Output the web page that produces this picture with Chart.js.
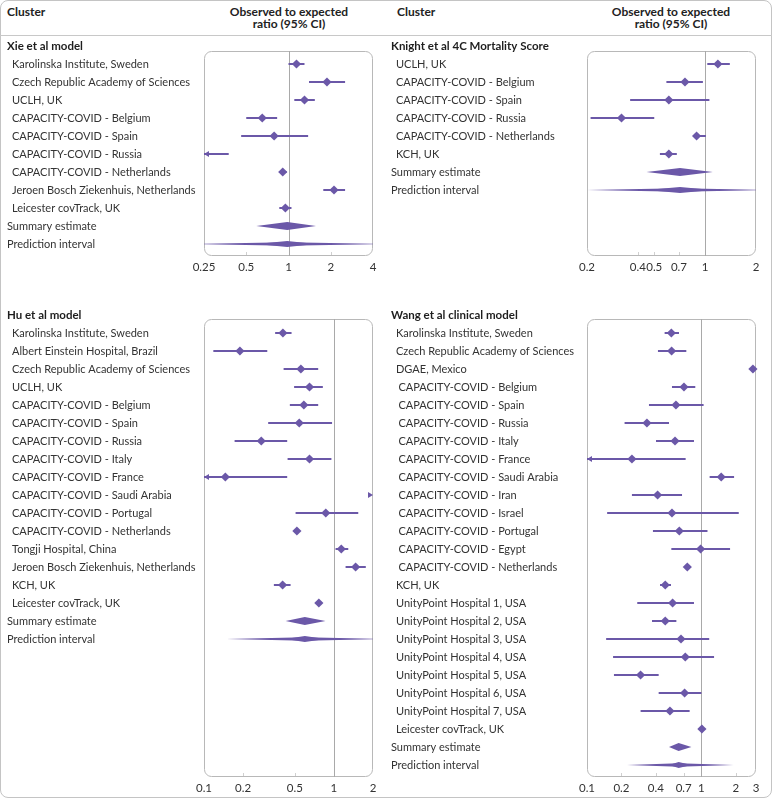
<!DOCTYPE html>
<html>
<head>
<meta charset="utf-8">
<title>Observed to expected ratio by cluster</title>
<script src="https://cdn.jsdelivr.net/npm/chart.js@4.4.1/dist/chart.umd.min.js"></script>
<style>
  body { margin: 0; background: #fff; font-family: Lato, "Open Sans", sans-serif; color: #333; }
  #frame { position: relative; width: 773px; height: 800px; }
  .border { position: absolute; left: 0; top: 0; width: 770px; height: 796px; border: 1px solid #c4c4c4; border-radius: 8px; }
  .sep { position: absolute; left: 0; top: 35px; width: 772px; border-top: 1px solid #c8c8c8; }
  .hd { position: absolute; top: 6px; font-weight: bold; font-size: 12px; line-height: 12px; color: #222; }
  canvas { position: absolute; }
</style>
</head>
<body>
<div id="frame">
  <div class="border"></div>
  <div class="sep"></div>
  <div class="hd" style="left:7px">Cluster</div>
  <div class="hd" style="left:219px;width:140px;text-align:center">Observed to expected<br>ratio (95% CI)</div>
  <div class="hd" style="left:397px">Cluster</div>
  <div class="hd" style="left:601px;width:140px;text-align:center">Observed to expected<br>ratio (95% CI)</div>
  <canvas id="xie" width="386" height="243" style="left:0;top:37px"></canvas>
  <canvas id="knight" width="389" height="243" style="left:384px;top:37px"></canvas>
  <canvas id="hu" width="386" height="494" style="left:0;top:306px"></canvas>
  <canvas id="wang" width="389" height="494" style="left:384px;top:306px"></canvas>
</div>
<script>
// ---- Xie et al model
const xieTitle = 'Xie et al model';
const xieSites = ['Karolinska Institute, Sweden', 'Czech Republic Academy of Sciences', 'UCLH, UK',
  'CAPACITY-COVID - Belgium', 'CAPACITY-COVID - Spain', 'CAPACITY-COVID - Russia',
  'CAPACITY-COVID - Netherlands', 'Jeroen Bosch Ziekenhuis, Netherlands', 'Leicester covTrack, UK'];
const xieEst = [1.14, 1.88, 1.30, 0.65, 0.79, 0.20, 0.91, 2.11, 0.95];
const xieLo = [1.00, 1.40, 1.10, 0.50, 0.46, 0.12, 0.86, 1.77, 0.86];
const xieHi = [1.30, 2.53, 1.54, 0.83, 1.38, 0.375, 0.97, 2.53, 1.05];
const xieSummary = [0.59, 0.98, 1.57];   // lo, estimate, hi
const xiePredict = [0.2, 0.98, 4.8];
const xieTicks = [0.25, 0.5, 1, 2, 4];

// ---- Knight et al 4C Mortality Score
const knightTitle = 'Knight et al 4C Mortality Score';
const knightSites = ['UCLH, UK', 'CAPACITY-COVID - Belgium', 'CAPACITY-COVID - Spain',
  'CAPACITY-COVID - Russia', 'CAPACITY-COVID - Netherlands', 'KCH, UK'];
const knightEst = [1.19, 0.76, 0.61, 0.32, 0.89, 0.61];
const knightLo = [1.03, 0.59, 0.36, 0.21, 0.86, 0.54];
const knightHi = [1.40, 0.97, 1.06, 0.50, 1.01, 0.68];
const knightSummary = [0.45, 0.71, 1.11];
const knightPredict = [0.19, 0.71, 2.3];
const knightTicks = [0.2, 0.4, 0.5, 0.7, 1, 2];

// ---- Hu et al model
const huTitle = 'Hu et al model';
const huSites = ['Karolinska Institute, Sweden', 'Albert Einstein Hospital, Brazil', 'Czech Republic Academy of Sciences',
  'UCLH, UK', 'CAPACITY-COVID - Belgium', 'CAPACITY-COVID - Spain', 'CAPACITY-COVID - Russia',
  'CAPACITY-COVID - Italy', 'CAPACITY-COVID - France', 'CAPACITY-COVID - Saudi Arabia',
  'CAPACITY-COVID - Portugal', 'CAPACITY-COVID - Netherlands', 'Tongji Hospital, China',
  'Jeroen Bosch Ziekenhuis, Netherlands', 'KCH, UK', 'Leicester covTrack, UK'];
const huEst = [0.405, 0.189, 0.557, 0.649, 0.587, 0.541, 0.276, 0.649, 0.146, 3.0, 0.866, 0.519, 1.14, 1.47, 0.403, 0.766];
const huLo = [0.353, 0.118, 0.41, 0.494, 0.458, 0.312, 0.172, 0.44, 0.08, 2.1, 0.507, 0.50, 1.03, 1.23, 0.345, 0.74];
const huHi = [0.472, 0.307, 0.757, 0.822, 0.757, 0.968, 0.437, 0.957, 0.437, 4.2, 1.54, 0.54, 1.29, 1.76, 0.464, 0.79];
const huSummary = [0.425, 0.597, 0.861];
const huPredict = [0.149, 0.6, 2.4];
const huTicks = [0.1, 0.2, 0.5, 1, 2];

// ---- Wang et al clinical model
const wangTitle = 'Wang et al clinical model';
const wangSites = ['Karolinska Institute, Sweden', 'Czech Republic Academy of Sciences', 'DGAE, Mexico',
  'CAPACITY-COVID - Belgium', 'CAPACITY-COVID - Spain', 'CAPACITY-COVID - Russia', 'CAPACITY-COVID - Italy',
  'CAPACITY-COVID - France', 'CAPACITY-COVID - Saudi Arabia', 'CAPACITY-COVID - Iran', 'CAPACITY-COVID - Israel',
  'CAPACITY-COVID - Portugal', 'CAPACITY-COVID - Egypt', 'CAPACITY-COVID - Netherlands', 'KCH, UK',
  'UnityPoint Hospital 1, USA', 'UnityPoint Hospital 2, USA', 'UnityPoint Hospital 3, USA',
  'UnityPoint Hospital 4, USA', 'UnityPoint Hospital 5, USA', 'UnityPoint Hospital 6, USA',
  'UnityPoint Hospital 7, USA', 'Leicester covTrack, UK'];
const wangEst = [0.546, 0.549, 2.82, 0.704, 0.599, 0.334, 0.588, 0.247, 1.49, 0.414, 0.553, 0.641,
  0.984, 0.753, 0.483, 0.56, 0.483, 0.663, 0.723, 0.294, 0.713, 0.531, 1.01];
const wangLo = [0.477, 0.417, 2.72, 0.553, 0.348, 0.213, 0.401, 0.07, 1.18, 0.247, 0.15, 0.377,
  0.546, 0.72, 0.435, 0.275, 0.37, 0.147, 0.169, 0.172, 0.423, 0.294, 0.98];
const wangHi = [0.637, 0.738, 2.92, 0.884, 1.045, 0.521, 0.861, 0.728, 1.93, 0.677, 2.12, 1.13,
  1.78, 0.79, 0.542, 0.861, 0.604, 1.17, 1.29, 0.423, 1.0, 0.789, 1.04];
const wangSummary = [0.521, 0.632, 0.817];
const wangPredict = [0.224, 0.632, 1.91];
const wangTicks = [0.1, 0.2, 0.4, 0.7, 1, 2, 3];

const purple = '#6b58a8';
const fontFam = 'Lato, "Open Sans", sans-serif';

function roundBox(ctx, x, y, w, h, r) {
  ctx.beginPath();
  ctx.moveTo(x + r, y);
  ctx.arcTo(x + w, y, x + w, y + h, r);
  ctx.arcTo(x + w, y + h, x, y + h, r);
  ctx.arcTo(x, y + h, x, y, r);
  ctx.arcTo(x, y, x + w, y, r);
  ctx.closePath();
}

function diamond(ctx, xl, xc, xr, yc, h) {
  ctx.beginPath();
  ctx.moveTo(xl, yc);
  ctx.lineTo(xc, yc - h);
  ctx.lineTo(xr, yc);
  ctx.lineTo(xc, yc + h);
  ctx.closePath();
  ctx.fill();
}

// Dibuja un panel del forest plot
function drawPanel(id, p) {
  const n = p.sites.length;
  const xMin = p.ticks[0];
  const xMax = p.ticks[p.ticks.length - 1];

  // segmentos de IC separados por null
  const ciData = [];
  p.sites.forEach((s, i) => {
    ciData.push({ x: p.lo[i], y: i + 1 }, { x: p.hi[i], y: i + 1 }, { x: null, y: i + 1 });
  });
  const estData = p.est.map((v, i) => ({ x: v, y: i + 1 }));

  const forest = {
    id: 'forest_' + id,
    beforeDatasetsDraw(chart) {
      const { ctx, chartArea: a, scales: { x, y } } = chart;
      const top = Math.round(y.getPixelForValue(0.25));
      ctx.save();
      ctx.strokeStyle = '#b8b8b8';
      ctx.lineWidth = 1;
      roundBox(ctx, a.left + 0.5, top + 0.5, a.width - 1, a.bottom - top - 1, 7);
      ctx.stroke();
      // pequeñas marcas del eje
      ctx.strokeStyle = '#d0d0d0';
      p.ticks.forEach(v => {
        if (v === xMin || v === xMax || v === 1) return;
        const px = Math.round(x.getPixelForValue(v)) + 0.5;
        ctx.beginPath(); ctx.moveTo(px, a.bottom - 4); ctx.lineTo(px, a.bottom - 1); ctx.stroke();
      });
      // línea de referencia en 1
      const x1 = Math.round(x.getPixelForValue(1)) + 0.5;
      ctx.strokeStyle = '#a9a9a9';
      ctx.beginPath(); ctx.moveTo(x1, top); ctx.lineTo(x1, a.bottom); ctx.stroke();
      ctx.restore();
    },
    afterDatasetsDraw(chart) {
      const { ctx, chartArea: a, scales: { x, y } } = chart;
      ctx.save();
      ctx.beginPath(); ctx.rect(a.left, a.top, a.width, a.height); ctx.clip();
      ctx.fillStyle = purple;
      const ys = y.getPixelForValue(n + 1);
      const yp = y.getPixelForValue(n + 2);
      const sx = p.summary.map(v => x.getPixelForValue(v));
      const px = p.predict.map(v => x.getPixelForValue(v));
      diamond(ctx, sx[0], sx[1], sx[2], ys, 4);
      diamond(ctx, px[0], px[1], px[2], yp, 1.8);
      diamond(ctx, sx[0], sx[1], sx[2], yp, 3);
      // flechas para IC fuera de escala
      p.sites.forEach((s, i) => {
        const yy = y.getPixelForValue(i + 1);
        if (p.lo[i] < xMin) {
          ctx.beginPath(); ctx.moveTo(a.left, yy); ctx.lineTo(a.left + 5, yy - 3); ctx.lineTo(a.left + 5, yy + 3); ctx.closePath(); ctx.fill();
        }
        if (p.hi[i] > xMax) {
          ctx.beginPath(); ctx.moveTo(a.right, yy); ctx.lineTo(a.right - 5, yy - 3); ctx.lineTo(a.right - 5, yy + 3); ctx.closePath(); ctx.fill();
        }
      });
      ctx.restore();
    },
    afterDraw(chart) {
      const { ctx, scales: { y } } = chart;
      ctx.save();
      ctx.textBaseline = 'middle';
      ctx.textAlign = 'left';
      ctx.fillStyle = '#1e1e1e';
      ctx.font = 'bold 11.5px ' + fontFam;
      ctx.fillText(p.title, 7, y.getPixelForValue(0));
      ctx.font = '11px ' + fontFam;
      ctx.fillStyle = '#333';
      p.sites.forEach((s, i) => {
        const extra = p.capIndent && s.startsWith('CAPACITY') ? 2.5 : 0;
        ctx.fillText(s, 12 + extra, y.getPixelForValue(i + 1));
      });
      ctx.fillText('Summary estimate', 7, y.getPixelForValue(n + 1));
      ctx.fillText('Prediction interval', 7, y.getPixelForValue(n + 2));
      ctx.restore();
    }
  };

  return new Chart(document.getElementById(id), {
    type: 'scatter',
    data: {
      datasets: [
        {
          type: 'line',
          data: ciData,
          borderColor: purple,
          borderWidth: 2,
          pointRadius: 0,
          spanGaps: false,
          tension: 0
        },
        {
          type: 'scatter',
          data: estData,
          pointStyle: 'rectRot',
          pointRadius: 4.6,
          pointHoverRadius: 4.6,
          backgroundColor: purple,
          borderWidth: 0,
          clip: 2
        }
      ]
    },
    options: {
      responsive: false,
      animation: false,
      events: [],
      layout: { padding: p.padding, autoPadding: false },
      plugins: { legend: { display: false }, tooltip: { enabled: false } },
      scales: {
        x: {
          type: 'logarithmic',
          min: xMin,
          max: xMax,
          afterBuildTicks: s => { s.ticks = p.ticks.map(v => ({ value: v })); },
          afterFit: s => { s.height = 20; },
          grid: { display: false, drawTicks: false },
          border: { display: false },
          ticks: {
            autoSkip: false,
            maxRotation: 0,
            minRotation: 0,
            padding: 4,
            color: '#333',
            font: { family: fontFam, size: 11.5 },
            callback: v => String(v)
          }
        },
        y: {
          type: 'linear',
          reverse: true,
          min: -0.5,
          max: p.yMax,
          display: false
        }
      }
    },
    plugins: [forest]
  });
}

const topMax = -0.5 + 219 / 18;
const bottomMax = -0.5 + 471 / 18;

drawPanel('xie', {
  title: xieTitle, sites: xieSites, est: xieEst, lo: xieLo, hi: xieHi,
  summary: xieSummary, predict: xiePredict, ticks: xieTicks,
  yMax: topMax, padding: { left: 204, right: 13, top: 0, bottom: 4 }
});
drawPanel('knight', {
  title: knightTitle, sites: knightSites, est: knightEst, lo: knightLo, hi: knightHi,
  summary: knightSummary, predict: knightPredict, ticks: knightTicks,
  yMax: topMax, padding: { left: 203, right: 17, top: 0, bottom: 4 }
});
drawPanel('hu', {
  title: huTitle, sites: huSites, est: huEst, lo: huLo, hi: huHi,
  summary: huSummary, predict: huPredict, ticks: huTicks,
  yMax: bottomMax, padding: { left: 204, right: 13, top: 0, bottom: 3 }
});
drawPanel('wang', {
  title: wangTitle, sites: wangSites, est: wangEst, lo: wangLo, hi: wangHi,
  summary: wangSummary, predict: wangPredict, ticks: wangTicks, capIndent: true,
  yMax: bottomMax, padding: { left: 203, right: 17, top: 0, bottom: 3 }
});
</script>
</body>
</html>
